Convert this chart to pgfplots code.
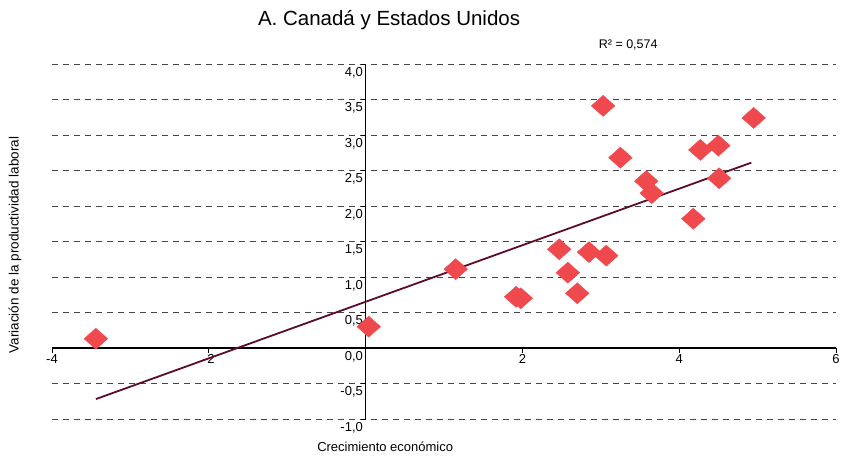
\documentclass[border=0pt]{standalone}
\usepackage{fontspec}
\setmainfont{Liberation Sans}
\usepackage{pgfplots}
\pgfplotsset{compat=1.18}
\definecolor{ptred}{RGB}{239,72,77}
\definecolor{trend}{RGB}{92,10,46}
\definecolor{gridc}{RGB}{70,70,70}
\newcommand{\tickfont}{\fontsize{13bp}{15bp}\selectfont}
\begin{document}
\begin{tikzpicture}
\begin{axis}[
  x=78.4bp, y=71bp,
  xmin=-4, xmax=6, ymin=-1, ymax=4,
  axis lines=middle,
  axis line style={black, line width=1.1pt, -},
  clip=false,
  xtick={-4,-2,2,4,6},
  ytick={-1,-0.5,0,0.5,1,1.5,2,2.5,3,3.5,4},
  hide obscured y ticks=false,
  tick align=outside,
  major tick length=5bp,
  tick style={black, line width=0.8pt},
  ymajorgrids=true,
  grid style={gridc, line width=0.8pt, dash pattern=on 6bp off 5bp},
  /pgf/number format/assume math mode=true,
  xticklabel style={font=\tickfont, anchor=north, inner sep=1pt},
  yticklabel style={font=\tickfont, anchor=north east, inner sep=1.5pt, xshift=4bp, yshift=-1.5bp,
    /pgf/number format/.cd, fixed, fixed zerofill, precision=1, use comma},
]
% invisible frame with the proportions of the reference
\path (axis cs:-4.663,4.901) rectangle (axis cs:6.077,-1.507);

% trend line
\addplot[trend, line width=1.8bp] coordinates {(-3.44,-0.72) (4.92,2.61)};

% observations
\addplot[only marks, mark=diamond*, mark size=10.5bp,
  mark options={xscale=1.5, fill=ptred, draw=ptred}] coordinates {
  (-3.44,0.13) (0.04,0.30) (1.15,1.11) (1.92,0.72) (1.98,0.70)
  (2.47,1.39) (2.58,1.06) (2.70,0.77) (2.85,1.35) (3.07,1.30)
  (3.03,3.41) (3.25,2.68) (3.58,2.35) (3.65,2.18) (4.18,1.82)
  (4.27,2.79) (4.50,2.85) (4.51,2.39) (4.95,3.24)
};

\node[font=\fontsize{20.5bp}{24bp}\selectfont] at (axis cs:0.30,4.62) {A. Canadá y Estados Unidos};
\node[font=\fontsize{12.5bp}{15bp}\selectfont] at (axis cs:3.35,4.27) {R² = 0,574};
\node[font=\fontsize{13bp}{15bp}\selectfont] at (axis cs:0.25,-1.394) {Crecimiento económico};
\node[font=\fontsize{13.5bp}{15bp}\selectfont, rotate=90] at (axis cs:-4.47,1.45) {Variación de la productividad laboral};
\end{axis}
\end{tikzpicture}
\end{document}
